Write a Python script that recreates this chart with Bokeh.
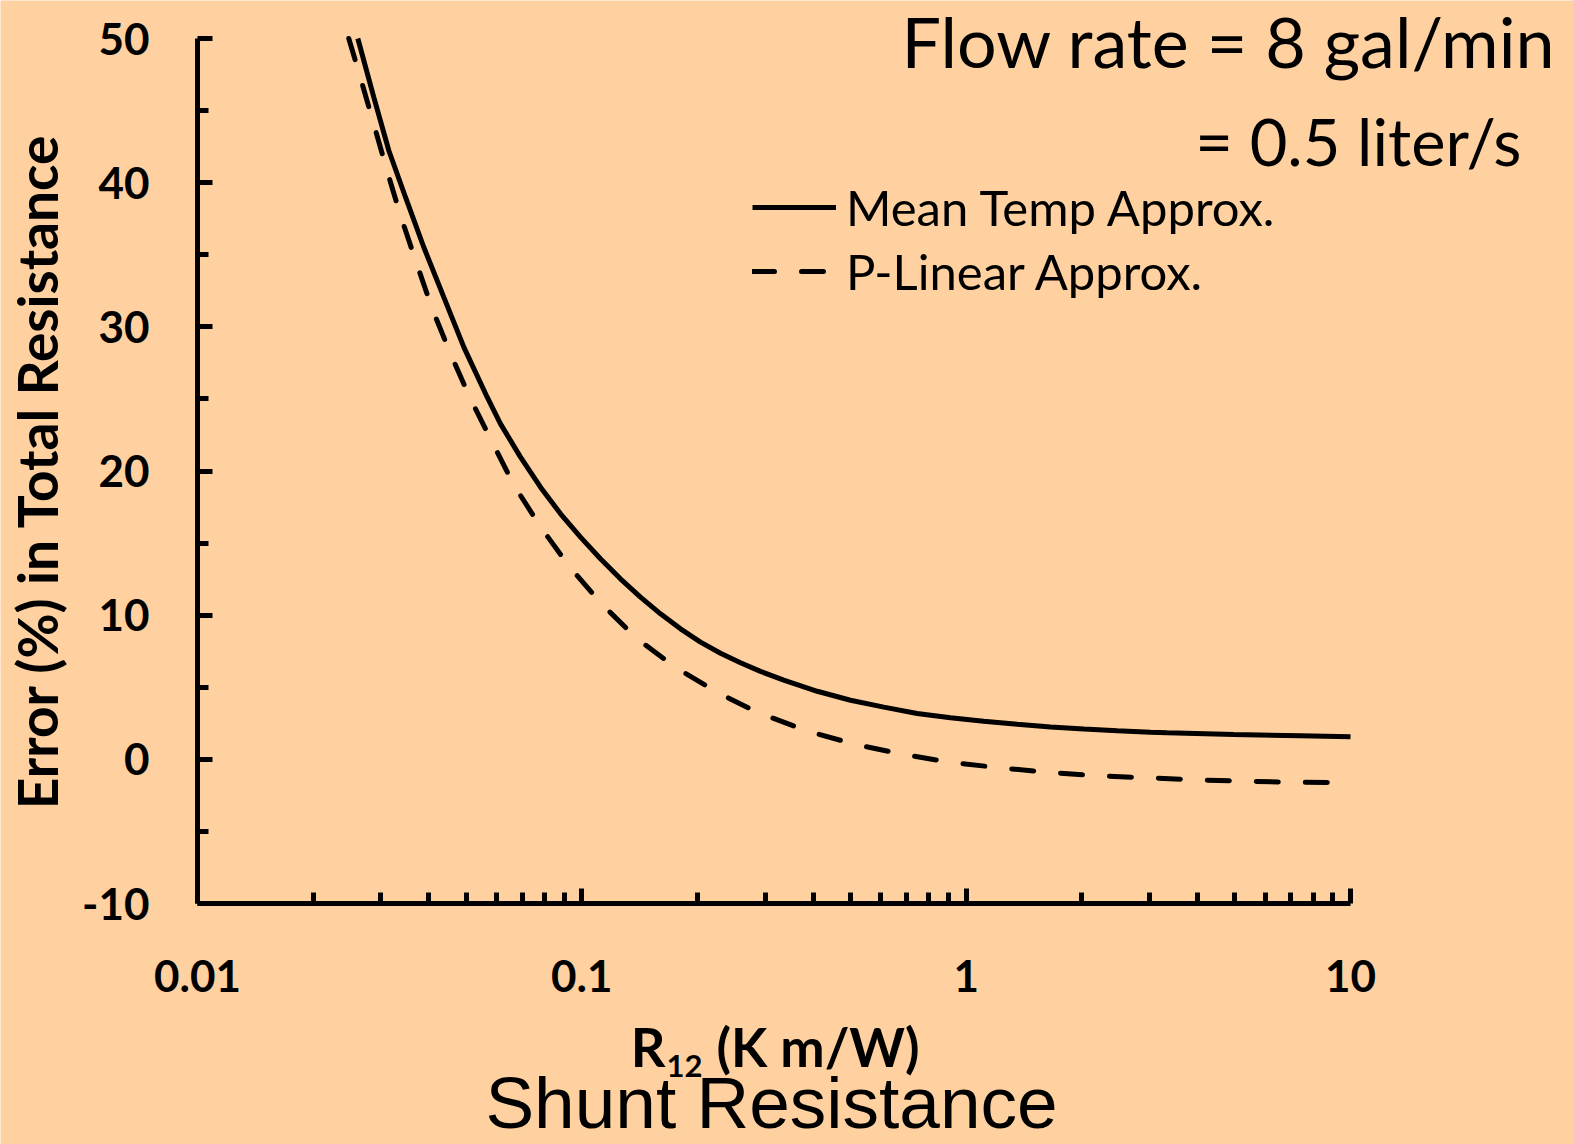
from bokeh.plotting import figure
from bokeh.models import (FixedTicker, CustomJSTickFormatter, Label, Legend, LegendItem,
                          ColumnDataSource, Range1d)
from bokeh.embed import file_html
from bokeh.resources import INLINE
import math

# ---- data ----
r12_mean = [0.02613, 0.02875, 0.03146, 0.03477, 0.03880, 0.04373, 0.04931, 0.05673, 0.06143,
            0.06926, 0.07807, 0.08803, 0.09920, 0.1118, 0.1260, 0.1421, 0.1602, 0.1806,
            0.2036, 0.2295, 0.2587, 0.2916, 0.3352, 0.4097, 0.5001, 0.6106, 0.7457,
            0.9104, 1.111, 1.358, 1.658, 2.024, 2.472, 3.017, 3.335, 4.970, 7.413, 10.0]
err_mean = [50.0, 45.93, 42.23, 38.99, 35.52, 32.06, 28.59, 25.12, 23.27,
            20.96, 18.88, 17.03, 15.41, 13.91, 12.52, 11.25, 10.09, 9.05,
            8.13, 7.36, 6.70, 6.10, 5.50, 4.72, 4.10, 3.62, 3.18,
            2.88, 2.64, 2.43, 2.25, 2.10, 1.98, 1.88, 1.84, 1.72, 1.63, 1.56]

r12_plin = [0.02475, 0.02644, 0.02866, 0.03103, 0.03374, 0.03715, 0.04080, 0.04553, 0.05131,
            0.05845, 0.06680, 0.07840, 0.09304, 0.1130, 0.1393, 0.1760, 0.2272, 0.2860,
            0.3871, 0.5155, 0.6860, 0.9159, 1.228, 1.648, 2.200, 2.958, 3.968, 5.299,
            7.163, 10.0]
err_plin = [50.0, 47.43, 44.19, 40.96, 37.72, 34.41, 31.25, 28.13, 25.01,
            22.00, 18.95, 16.06, 13.33, 10.74, 8.36, 6.35, 4.59, 3.27,
            1.95, 1.03, 0.34, -0.22, -0.59, -0.91, -1.14, -1.28, -1.42, -1.52,
            -1.59, -1.63]

x_major_ticks = [0.01, 0.1, 1, 10]
y_major_ticks = [-10, 0, 10, 20, 30, 40, 50]
y_minor_ticks = [-5, 5, 15, 25, 35, 45]

series_labels = ["Mean Temp Approx.", "P-Linear Approx."]
y_title = "Error (%) in Total Resistance"
x_title_main = "R"
x_title_sub = "12"
x_title_rest = "(K m/W)"
caption = "Shunt Resistance"
flow_line1 = "Flow rate =  8 gal/min"
flow_line2 = "= 0.5 liter/s"

BG = "#FFD0A0"
W, H = 1573, 1144
# pixel box of the axes in the picture
AX_L, AX_R, AX_T, AX_B = 197, 1350, 38, 903
X_MIN, X_MAX, Y_MIN, Y_MAX = 0.01, 10.0, -10.0, 50.0

dec_px = (AX_R - AX_L) / (math.log10(X_MAX) - math.log10(X_MIN))
unit_px = (AX_B - AX_T) / (Y_MAX - Y_MIN)
x_lo = 10 ** (math.log10(X_MIN) - AX_L / dec_px)
x_hi = 10 ** (math.log10(X_MAX) + (W - AX_R) / dec_px)
y_hi = Y_MAX + AX_T / unit_px
y_lo = Y_MIN - (H - AX_B) / unit_px

x_minor_ticks = [m * d for d in (0.01, 0.1, 1) for m in range(2, 10)]

p = figure(x_axis_type="log", x_range=Range1d(x_lo, x_hi), y_range=Range1d(y_lo, y_hi),
           width=W, height=H, min_border=0,
           output_backend="svg", toolbar_location=None)

p.background_fill_color = BG
p.border_fill_color = BG
p.outline_line_color = None
p.xgrid.visible = False
p.ygrid.visible = False

for ax in (p.xaxis[0], p.yaxis[0]):
    ax.axis_line_width = 5
    ax.axis_line_color = "black"
    ax.major_tick_line_width = 5
    ax.minor_tick_line_width = 5
    ax.major_tick_line_color = "black"
    ax.minor_tick_line_color = "black"
    ax.major_tick_out = 0
    ax.minor_tick_out = 0
    ax.major_tick_in = 15
    ax.minor_tick_in = 11
    ax.major_label_text_font = "Lato"
    ax.major_label_text_font_style = "bold"
    ax.major_label_text_font_size = "44px"
    ax.major_label_text_color = "black"
    ax.formatter = CustomJSTickFormatter(code="return String(tick)")

p.xaxis.ticker = FixedTicker(ticks=x_major_ticks, minor_ticks=x_minor_ticks)
p.xaxis.bounds = (X_MIN, X_MAX)
p.xaxis.fixed_location = Y_MIN
p.xaxis.major_label_standoff = 56
p.xaxis.axis_label = None

p.yaxis.ticker = FixedTicker(ticks=y_major_ticks, minor_ticks=y_minor_ticks)
p.yaxis.bounds = (Y_MIN, Y_MAX)
p.yaxis.fixed_location = X_MIN
p.yaxis.major_label_standoff = 48
p.yaxis.axis_label = y_title
p.yaxis.axis_label_text_font = "Lato"
p.yaxis.axis_label_text_font_style = "bold"
p.yaxis.axis_label_text_font_size = "55px"
p.yaxis.axis_label_standoff = 9
p.yaxis.axis_label_text_color = "black"

src_mean = ColumnDataSource(dict(x=r12_mean, y=err_mean))
src_plin = ColumnDataSource(dict(x=r12_plin, y=err_plin))
r1 = p.line("x", "y", source=src_mean, line_color="black", line_width=5)
r2 = p.line("x", "y", source=src_plin, line_color="black", line_width=5,
            line_dash="22 27", line_cap="round")

legend = Legend(items=[LegendItem(label=series_labels[0], renderers=[r1]),
                       LegendItem(label=series_labels[1], renderers=[r2])],
                location=(752, 844))
legend.background_fill_alpha = 0
legend.border_line_color = None
legend.padding = 0
legend.margin = 0
legend.spacing = 6
legend.glyph_width = 84
legend.glyph_height = 40
legend.label_standoff = 10
legend.label_text_font = "Lato"
legend.label_text_font_size = "49px"
legend.label_text_color = "black"
p.add_layout(legend)


def add_text(text, px, py, size, align="left", style="normal", font="Lato", lift=0.37):
    # px, py: baseline position in canvas pixels (frame == canvas)
    p.add_layout(Label(x=px, y=H - py + lift * size, x_units="screen", y_units="screen",
                       text=text, text_align=align, text_baseline="alphabetic",
                       text_font=font, text_font_size=f"{size}px", text_font_style=style,
                       text_color="black"))


add_text(flow_line1, 901, 66, 70, align="left")
add_text(flow_line2, 1521, 165, 65, align="right")
add_text(x_title_main, 665, 1066, 54, align="right", style="bold")
add_text(x_title_sub, 666, 1077, 31, align="left", style="bold")
add_text(x_title_rest, 716, 1066, 53, align="left", style="bold")
add_text(caption, 771, 1124, 73, align="center", font="Liberation Sans", lift=0.3)

open("out.html", "w").write(file_html(p, INLINE))
